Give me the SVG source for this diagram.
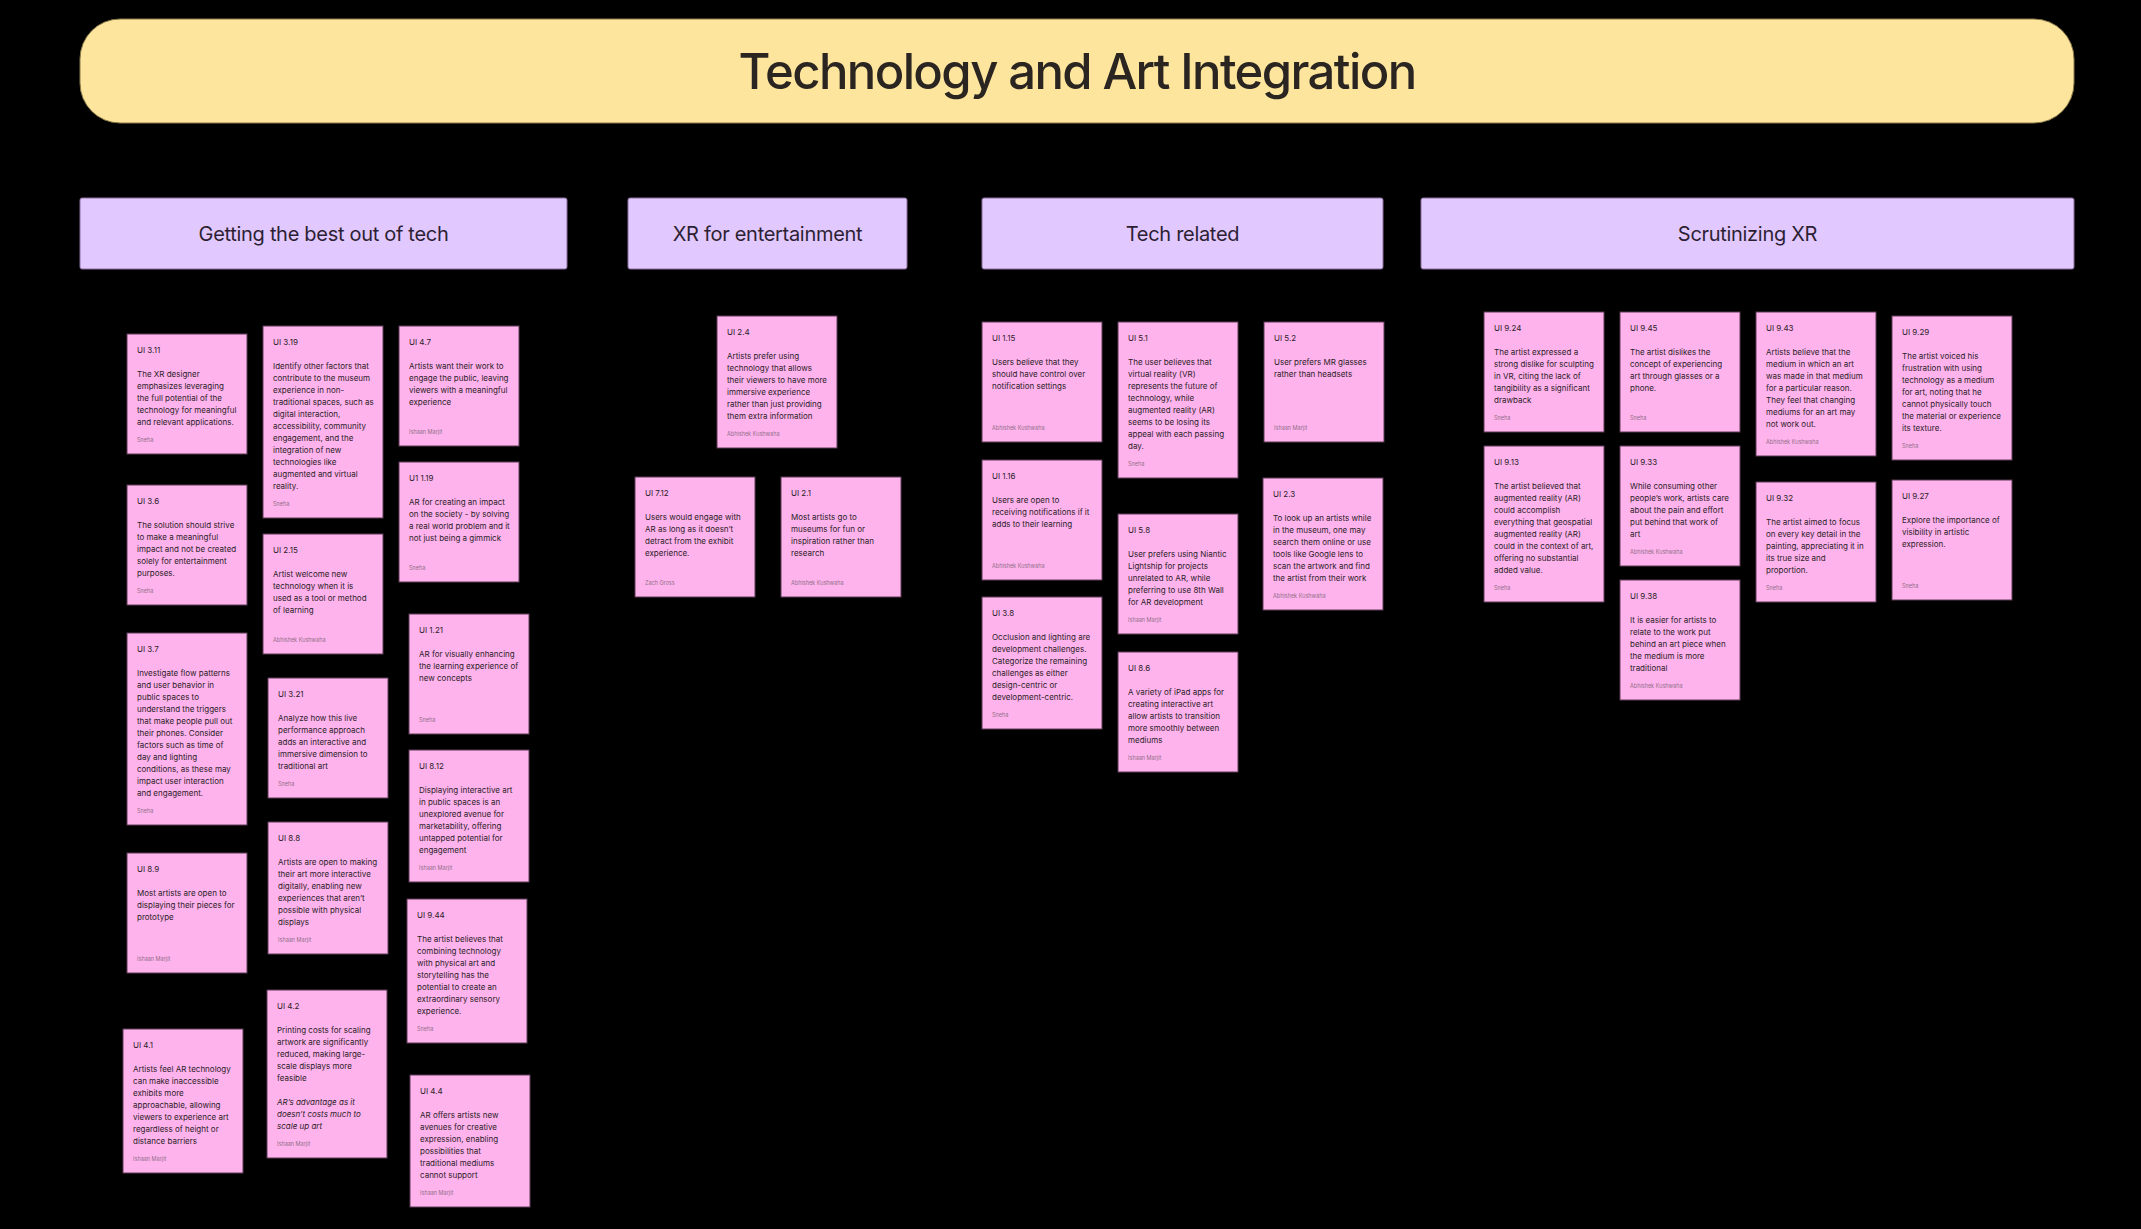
<svg xmlns="http://www.w3.org/2000/svg" width="2141" height="1229" viewBox="0 0 2141 1229">
<style>
.bg{fill:#000}
.title rect{fill:#FDE59D;stroke:#8a7a4a;stroke-width:1}
.title text{font-family:Inter,"Noto Sans",sans-serif;font-size:49px;font-weight:500;letter-spacing:-1.6px;fill:#2a2520;text-anchor:middle}
.hdr rect{fill:#E1C8FE;stroke:#8c6fa0;stroke-width:1}
.hdr text{font-family:Inter,"Noto Sans",sans-serif;font-size:20px;letter-spacing:-0.3px;fill:#2d1f33;text-anchor:middle}
.note rect{fill:#FFB3EC;stroke:#5c3c57;stroke-width:1}
.note text{font-family:Inter,"Noto Sans",sans-serif}
.lbl{font-size:8px;fill:#2a2228}
.body{font-size:8px;fill:#2a2228}
.it{font-style:italic}
.auth{font-size:5.5px;fill:#8f7089}
</style>
<rect class="bg" x="0" y="0" width="2141" height="1229"/>
<g id="title" class="title">
<rect x="80" y="19" width="1994" height="104" rx="40" ry="40"/>
<text x="1077" y="89">Technology and Art Integration</text>
</g>
<g id="hdr-best" class="hdr"><rect x="80" y="198" width="487" height="71" rx="2"/><text x="323.5" y="241">Getting the best out of tech</text></g>
<g id="hdr-xr" class="hdr"><rect x="628" y="198" width="279" height="71" rx="2"/><text x="767.5" y="241">XR for entertainment</text></g>
<g id="hdr-tech" class="hdr"><rect x="982" y="198" width="401" height="71" rx="2"/><text x="1182.5" y="241">Tech related</text></g>
<g id="hdr-scrut" class="hdr"><rect x="1421" y="198" width="653" height="71" rx="2"/><text x="1747.5" y="241">Scrutinizing XR</text></g>
<g id="connectors"></g>

<g id="ui-3-11" class="note" transform="translate(127,334)"><rect width="120" height="120"/><text class="lbl" x="10" y="19">UI 3.11</text><text class="body"><tspan x="10" y="43">The XR designer</tspan><tspan x="10" y="55">emphasizes leveraging</tspan><tspan x="10" y="67">the full potential of the</tspan><tspan x="10" y="79">technology for meaningful</tspan><tspan x="10" y="91">and relevant applications.</tspan></text><text class="auth" x="10" y="108">Sneha</text></g>

<g id="ui-3-19" class="note" transform="translate(263,326)"><rect width="120" height="192"/><text class="lbl" x="10" y="19">UI 3.19</text><text class="body"><tspan x="10" y="43">Identify other factors that</tspan><tspan x="10" y="55">contribute to the museum</tspan><tspan x="10" y="67">experience in non-</tspan><tspan x="10" y="79">traditional spaces, such as</tspan><tspan x="10" y="91">digital interaction,</tspan><tspan x="10" y="103">accessibility, community</tspan><tspan x="10" y="115">engagement, and the</tspan><tspan x="10" y="127">integration of new</tspan><tspan x="10" y="139">technologies like</tspan><tspan x="10" y="151">augmented and virtual</tspan><tspan x="10" y="163">reality.</tspan></text><text class="auth" x="10" y="180">Sneha</text></g>

<g id="ui-4-7" class="note" transform="translate(399,326)"><rect width="120" height="120"/><text class="lbl" x="10" y="19">UI 4.7</text><text class="body"><tspan x="10" y="43">Artists want their work to</tspan><tspan x="10" y="55">engage the public, leaving</tspan><tspan x="10" y="67">viewers with a meaningful</tspan><tspan x="10" y="79">experience</tspan></text><text class="auth" x="10" y="108">Ishaan Marjit</text></g>

<g id="ui-3-6" class="note" transform="translate(127,485)"><rect width="120" height="120"/><text class="lbl" x="10" y="19">UI 3.6</text><text class="body"><tspan x="10" y="43">The solution should strive</tspan><tspan x="10" y="55">to make a meaningful</tspan><tspan x="10" y="67">impact and not be created</tspan><tspan x="10" y="79">solely for entertainment</tspan><tspan x="10" y="91">purposes.</tspan></text><text class="auth" x="10" y="108">Sneha</text></g>

<g id="ui-1-19" class="note" transform="translate(399,462)"><rect width="120" height="120"/><text class="lbl" x="10" y="19">U1 1.19</text><text class="body"><tspan x="10" y="43">AR for creating an impact</tspan><tspan x="10" y="55">on the society - by solving</tspan><tspan x="10" y="67">a real world problem and it</tspan><tspan x="10" y="79">not just being a gimmick</tspan></text><text class="auth" x="10" y="108">Sneha</text></g>

<g id="ui-2-15" class="note" transform="translate(263,534)"><rect width="120" height="120"/><text class="lbl" x="10" y="19">UI 2.15</text><text class="body"><tspan x="10" y="43">Artist welcome new</tspan><tspan x="10" y="55">technology when it is</tspan><tspan x="10" y="67">used as a tool or method</tspan><tspan x="10" y="79">of learning</tspan></text><text class="auth" x="10" y="108">Abhishek Kushwaha</text></g>

<g id="ui-3-7" class="note" transform="translate(127,633)"><rect width="120" height="192"/><text class="lbl" x="10" y="19">UI 3.7</text><text class="body"><tspan x="10" y="43">Investigate flow patterns</tspan><tspan x="10" y="55">and user behavior in</tspan><tspan x="10" y="67">public spaces to</tspan><tspan x="10" y="79">understand the triggers</tspan><tspan x="10" y="91">that make people pull out</tspan><tspan x="10" y="103">their phones. Consider</tspan><tspan x="10" y="115">factors such as time of</tspan><tspan x="10" y="127">day and lighting</tspan><tspan x="10" y="139">conditions, as these may</tspan><tspan x="10" y="151">impact user interaction</tspan><tspan x="10" y="163">and engagement.</tspan></text><text class="auth" x="10" y="180">Sneha</text></g>

<g id="ui-1-21" class="note" transform="translate(409,614)"><rect width="120" height="120"/><text class="lbl" x="10" y="19">UI 1.21</text><text class="body"><tspan x="10" y="43">AR for visually enhancing</tspan><tspan x="10" y="55">the learning experience of</tspan><tspan x="10" y="67">new concepts</tspan></text><text class="auth" x="10" y="108">Sneha</text></g>

<g id="ui-3-21" class="note" transform="translate(268,678)"><rect width="120" height="120"/><text class="lbl" x="10" y="19">UI 3.21</text><text class="body"><tspan x="10" y="43">Analyze how this live</tspan><tspan x="10" y="55">performance approach</tspan><tspan x="10" y="67">adds an interactive and</tspan><tspan x="10" y="79">immersive dimension to</tspan><tspan x="10" y="91">traditional art</tspan></text><text class="auth" x="10" y="108">Sneha</text></g>

<g id="ui-8-12" class="note" transform="translate(409,750)"><rect width="120" height="132"/><text class="lbl" x="10" y="19">UI 8.12</text><text class="body"><tspan x="10" y="43">Displaying interactive art</tspan><tspan x="10" y="55">in public spaces is an</tspan><tspan x="10" y="67">unexplored avenue for</tspan><tspan x="10" y="79">marketability, offering</tspan><tspan x="10" y="91">untapped potential for</tspan><tspan x="10" y="103">engagement</tspan></text><text class="auth" x="10" y="120">Ishaan Marjit</text></g>

<g id="ui-8-8" class="note" transform="translate(268,822)"><rect width="120" height="132"/><text class="lbl" x="10" y="19">UI 8.8</text><text class="body"><tspan x="10" y="43">Artists are open to making</tspan><tspan x="10" y="55">their art more interactive</tspan><tspan x="10" y="67">digitally, enabling new</tspan><tspan x="10" y="79">experiences that aren’t</tspan><tspan x="10" y="91">possible with physical</tspan><tspan x="10" y="103">displays</tspan></text><text class="auth" x="10" y="120">Ishaan Marjit</text></g>

<g id="ui-8-9" class="note" transform="translate(127,853)"><rect width="120" height="120"/><text class="lbl" x="10" y="19">UI 8.9</text><text class="body"><tspan x="10" y="43">Most artists are open to</tspan><tspan x="10" y="55">displaying their pieces for</tspan><tspan x="10" y="67">prototype</tspan></text><text class="auth" x="10" y="108">Ishaan Marjit</text></g>

<g id="ui-9-44" class="note" transform="translate(407,899)"><rect width="120" height="144"/><text class="lbl" x="10" y="19">UI 9.44</text><text class="body"><tspan x="10" y="43">The artist believes that</tspan><tspan x="10" y="55">combining technology</tspan><tspan x="10" y="67">with physical art and</tspan><tspan x="10" y="79">storytelling has the</tspan><tspan x="10" y="91">potential to create an</tspan><tspan x="10" y="103">extraordinary sensory</tspan><tspan x="10" y="115">experience.</tspan></text><text class="auth" x="10" y="132">Sneha</text></g>

<g id="ui-4-2" class="note" transform="translate(267,990)"><rect width="120" height="168"/><text class="lbl" x="10" y="19">UI 4.2</text><text class="body"><tspan x="10" y="43">Printing costs for scaling</tspan><tspan x="10" y="55">artwork are significantly</tspan><tspan x="10" y="67">reduced, making large-</tspan><tspan x="10" y="79">scale displays more</tspan><tspan x="10" y="91">feasible</tspan></text><text class="body it"><tspan x="10" y="115">AR’s advantage as it</tspan><tspan x="10" y="127">doesn’t costs much to</tspan><tspan x="10" y="139">scale up art</tspan></text><text class="auth" x="10" y="156">Ishaan Marjit</text></g>

<g id="ui-4-1" class="note" transform="translate(123,1029)"><rect width="120" height="144"/><text class="lbl" x="10" y="19">UI 4.1</text><text class="body"><tspan x="10" y="43">Artists feel AR technology</tspan><tspan x="10" y="55">can make inaccessible</tspan><tspan x="10" y="67">exhibits more</tspan><tspan x="10" y="79">approachable, allowing</tspan><tspan x="10" y="91">viewers to experience art</tspan><tspan x="10" y="103">regardless of height or</tspan><tspan x="10" y="115">distance barriers</tspan></text><text class="auth" x="10" y="132">Ishaan Marjit</text></g>

<g id="ui-4-4" class="note" transform="translate(410,1075)"><rect width="120" height="132"/><text class="lbl" x="10" y="19">UI 4.4</text><text class="body"><tspan x="10" y="43">AR offers artists new</tspan><tspan x="10" y="55">avenues for creative</tspan><tspan x="10" y="67">expression, enabling</tspan><tspan x="10" y="79">possibilities that</tspan><tspan x="10" y="91">traditional mediums</tspan><tspan x="10" y="103">cannot support</tspan></text><text class="auth" x="10" y="120">Ishaan Marjit</text></g>

<g id="ui-2-4" class="note" transform="translate(717,316)"><rect width="120" height="132"/><text class="lbl" x="10" y="19">UI 2.4</text><text class="body"><tspan x="10" y="43">Artists prefer using</tspan><tspan x="10" y="55">technology that allows</tspan><tspan x="10" y="67">their viewers to have more</tspan><tspan x="10" y="79">immersive experience</tspan><tspan x="10" y="91">rather than just providing</tspan><tspan x="10" y="103">them extra information</tspan></text><text class="auth" x="10" y="120">Abhishek Kushwaha</text></g>

<g id="ui-7-12" class="note" transform="translate(635,477)"><rect width="120" height="120"/><text class="lbl" x="10" y="19">UI 7.12</text><text class="body"><tspan x="10" y="43">Users would engage with</tspan><tspan x="10" y="55">AR as long as it doesn’t</tspan><tspan x="10" y="67">detract from the exhibit</tspan><tspan x="10" y="79">experience.</tspan></text><text class="auth" x="10" y="108">Zach Gross</text></g>

<g id="ui-2-1" class="note" transform="translate(781,477)"><rect width="120" height="120"/><text class="lbl" x="10" y="19">UI 2.1</text><text class="body"><tspan x="10" y="43">Most artists go to</tspan><tspan x="10" y="55">museums for fun or</tspan><tspan x="10" y="67">inspiration rather than</tspan><tspan x="10" y="79">research</tspan></text><text class="auth" x="10" y="108">Abhishek Kushwaha</text></g>

<g id="ui-1-15" class="note" transform="translate(982,322)"><rect width="120" height="120"/><text class="lbl" x="10" y="19">UI 1.15</text><text class="body"><tspan x="10" y="43">Users believe that they</tspan><tspan x="10" y="55">should have control over</tspan><tspan x="10" y="67">notification settings</tspan></text><text class="auth" x="10" y="108">Abhishek Kushwaha</text></g>

<g id="ui-5-1" class="note" transform="translate(1118,322)"><rect width="120" height="156"/><text class="lbl" x="10" y="19">UI 5.1</text><text class="body"><tspan x="10" y="43">The user believes that</tspan><tspan x="10" y="55">virtual reality (VR)</tspan><tspan x="10" y="67">represents the future of</tspan><tspan x="10" y="79">technology, while</tspan><tspan x="10" y="91">augmented reality (AR)</tspan><tspan x="10" y="103">seems to be losing its</tspan><tspan x="10" y="115">appeal with each passing</tspan><tspan x="10" y="127">day.</tspan></text><text class="auth" x="10" y="144">Sneha</text></g>

<g id="ui-5-2" class="note" transform="translate(1264,322)"><rect width="120" height="120"/><text class="lbl" x="10" y="19">UI 5.2</text><text class="body"><tspan x="10" y="43">User prefers MR glasses</tspan><tspan x="10" y="55">rather than headsets</tspan></text><text class="auth" x="10" y="108">Ishaan Marjit</text></g>

<g id="ui-1-16" class="note" transform="translate(982,460)"><rect width="120" height="120"/><text class="lbl" x="10" y="19">UI 1.16</text><text class="body"><tspan x="10" y="43">Users are open to</tspan><tspan x="10" y="55">receiving notifications if it</tspan><tspan x="10" y="67">adds to their learning</tspan></text><text class="auth" x="10" y="108">Abhishek Kushwaha</text></g>

<g id="ui-2-3" class="note" transform="translate(1263,478)"><rect width="120" height="132"/><text class="lbl" x="10" y="19">UI 2.3</text><text class="body"><tspan x="10" y="43">To look up an artists while</tspan><tspan x="10" y="55">in the museum, one may</tspan><tspan x="10" y="67">search them online or use</tspan><tspan x="10" y="79">tools like Google lens to</tspan><tspan x="10" y="91">scan the artwork and find</tspan><tspan x="10" y="103">the artist from their work</tspan></text><text class="auth" x="10" y="120">Abhishek Kushwaha</text></g>

<g id="ui-5-8" class="note" transform="translate(1118,514)"><rect width="120" height="120"/><text class="lbl" x="10" y="19">UI 5.8</text><text class="body"><tspan x="10" y="43">User prefers using Niantic</tspan><tspan x="10" y="55">Lightship for projects</tspan><tspan x="10" y="67">unrelated to AR, while</tspan><tspan x="10" y="79">preferring to use 8th Wall</tspan><tspan x="10" y="91">for AR development</tspan></text><text class="auth" x="10" y="108">Ishaan Marjit</text></g>

<g id="ui-3-8" class="note" transform="translate(982,597)"><rect width="120" height="132"/><text class="lbl" x="10" y="19">UI 3.8</text><text class="body"><tspan x="10" y="43">Occlusion and lighting are</tspan><tspan x="10" y="55">development challenges.</tspan><tspan x="10" y="67">Categorize the remaining</tspan><tspan x="10" y="79">challenges as either</tspan><tspan x="10" y="91">design-centric or</tspan><tspan x="10" y="103">development-centric.</tspan></text><text class="auth" x="10" y="120">Sneha</text></g>

<g id="ui-8-6" class="note" transform="translate(1118,652)"><rect width="120" height="120"/><text class="lbl" x="10" y="19">UI 8.6</text><text class="body"><tspan x="10" y="43">A variety of iPad apps for</tspan><tspan x="10" y="55">creating interactive art</tspan><tspan x="10" y="67">allow artists to transition</tspan><tspan x="10" y="79">more smoothly between</tspan><tspan x="10" y="91">mediums</tspan></text><text class="auth" x="10" y="108">Ishaan Marjit</text></g>

<g id="ui-9-24" class="note" transform="translate(1484,312)"><rect width="120" height="120"/><text class="lbl" x="10" y="19">UI 9.24</text><text class="body"><tspan x="10" y="43">The artist expressed a</tspan><tspan x="10" y="55">strong dislike for sculpting</tspan><tspan x="10" y="67">in VR, citing the lack of</tspan><tspan x="10" y="79">tangibility as a significant</tspan><tspan x="10" y="91">drawback</tspan></text><text class="auth" x="10" y="108">Sneha</text></g>

<g id="ui-9-45" class="note" transform="translate(1620,312)"><rect width="120" height="120"/><text class="lbl" x="10" y="19">UI 9.45</text><text class="body"><tspan x="10" y="43">The artist dislikes the</tspan><tspan x="10" y="55">concept of experiencing</tspan><tspan x="10" y="67">art through glasses or a</tspan><tspan x="10" y="79">phone.</tspan></text><text class="auth" x="10" y="108">Sneha</text></g>

<g id="ui-9-13" class="note" transform="translate(1484,446)"><rect width="120" height="156"/><text class="lbl" x="10" y="19">UI 9.13</text><text class="body"><tspan x="10" y="43">The artist believed that</tspan><tspan x="10" y="55">augmented reality (AR)</tspan><tspan x="10" y="67">could accomplish</tspan><tspan x="10" y="79">everything that geospatial</tspan><tspan x="10" y="91">augmented reality (AR)</tspan><tspan x="10" y="103">could in the context of art,</tspan><tspan x="10" y="115">offering no substantial</tspan><tspan x="10" y="127">added value.</tspan></text><text class="auth" x="10" y="144">Sneha</text></g>

<g id="ui-9-33" class="note" transform="translate(1620,446)"><rect width="120" height="120"/><text class="lbl" x="10" y="19">UI 9.33</text><text class="body"><tspan x="10" y="43">While consuming other</tspan><tspan x="10" y="55">people’s work, artists care</tspan><tspan x="10" y="67">about the pain and effort</tspan><tspan x="10" y="79">put behind that work of</tspan><tspan x="10" y="91">art</tspan></text><text class="auth" x="10" y="108">Abhishek Kushwaha</text></g>

<g id="ui-9-38" class="note" transform="translate(1620,580)"><rect width="120" height="120"/><text class="lbl" x="10" y="19">UI 9.38</text><text class="body"><tspan x="10" y="43">It is easier for artists to</tspan><tspan x="10" y="55">relate to the work put</tspan><tspan x="10" y="67">behind an art piece when</tspan><tspan x="10" y="79">the medium is more</tspan><tspan x="10" y="91">traditional</tspan></text><text class="auth" x="10" y="108">Abhishek Kushwaha</text></g>

<g id="ui-9-43" class="note" transform="translate(1756,312)"><rect width="120" height="144"/><text class="lbl" x="10" y="19">UI 9.43</text><text class="body"><tspan x="10" y="43">Artists believe that the</tspan><tspan x="10" y="55">medium in which an art</tspan><tspan x="10" y="67">was made in that medium</tspan><tspan x="10" y="79">for a particular reason.</tspan><tspan x="10" y="91">They feel that changing</tspan><tspan x="10" y="103">mediums for an art may</tspan><tspan x="10" y="115">not work out.</tspan></text><text class="auth" x="10" y="132">Abhishek Kushwaha</text></g>

<g id="ui-9-29" class="note" transform="translate(1892,316)"><rect width="120" height="144"/><text class="lbl" x="10" y="19">UI 9.29</text><text class="body"><tspan x="10" y="43">The artist voiced his</tspan><tspan x="10" y="55">frustration with using</tspan><tspan x="10" y="67">technology as a medium</tspan><tspan x="10" y="79">for art, noting that he</tspan><tspan x="10" y="91">cannot physically touch</tspan><tspan x="10" y="103">the material or experience</tspan><tspan x="10" y="115">its texture.</tspan></text><text class="auth" x="10" y="132">Sneha</text></g>

<g id="ui-9-32" class="note" transform="translate(1756,482)"><rect width="120" height="120"/><text class="lbl" x="10" y="19">UI 9.32</text><text class="body"><tspan x="10" y="43">The artist aimed to focus</tspan><tspan x="10" y="55">on every key detail in the</tspan><tspan x="10" y="67">painting, appreciating it in</tspan><tspan x="10" y="79">its true size and</tspan><tspan x="10" y="91">proportion.</tspan></text><text class="auth" x="10" y="108">Sneha</text></g>

<g id="ui-9-27" class="note" transform="translate(1892,480)"><rect width="120" height="120"/><text class="lbl" x="10" y="19">UI 9.27</text><text class="body"><tspan x="10" y="43">Explore the importance of</tspan><tspan x="10" y="55">visibility in artistic</tspan><tspan x="10" y="67">expression.</tspan></text><text class="auth" x="10" y="108">Sneha</text></g>
</svg>
